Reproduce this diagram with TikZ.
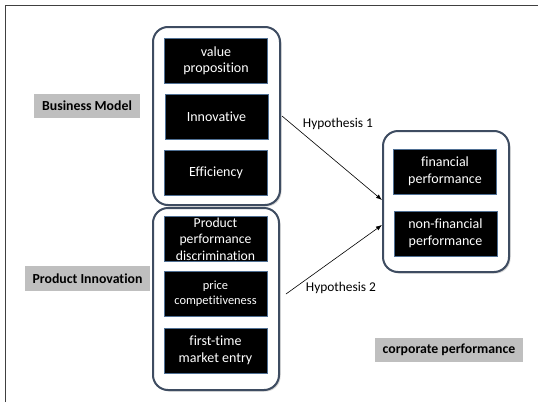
\documentclass[tikz,border=0pt]{standalone}
\usepackage{fontspec}
\setmainfont[Ligatures=NoCommon]{Carlito}
\usetikzlibrary{arrows.meta,shadows}
\definecolor{framegray}{HTML}{404040}
\definecolor{outerblue}{HTML}{3E4C61}
\definecolor{innerblue}{HTML}{4F6F93}
\definecolor{labelgray}{HTML}{BFBFBF}
\tikzset{
  outerbox/.style={draw=outerblue, line width=2pt, rounded corners=15pt, fill=white,
    drop shadow={shadow xshift=1.5pt, shadow yshift=-1.5pt, opacity=0.35, fill=gray}},
  innerbox/.style={draw=innerblue, line width=0.8pt, fill=black, text=white, align=center,
    minimum width=103pt, minimum height=45pt, inner sep=1pt,
    font=\fontsize{14}{16.5}\selectfont},
  graylabel/.style={fill=labelgray, text=black, inner sep=0pt,
    font=\fontsize{13.8}{15}\selectfont\bfseries},
  hyplabel/.style={font=\fontsize{13.4}{15}\selectfont, text=black},
  hyparrow/.style={draw=black, line width=0.6pt, -{Latex[length=6pt,width=4.5pt]}}
}
\begin{document}
\begin{tikzpicture}[x=1pt,y=-1pt]
\useasboundingbox (0,0) rectangle (538,402);
\fill[white] (0,0) rectangle (538,402);
% outer frame (left and top visible)
\draw[framegray, line width=1pt] (5,402) -- (5,5) -- (538,5);
% group boxes
\node[outerbox, minimum width=127pt, minimum height=178pt] (bm) at (216.5,116) {};
\node[outerbox, minimum width=126pt, minimum height=182pt] (pi) at (216,299) {};
\node[outerbox, minimum width=126pt, minimum height=141pt] (cp) at (446,201.5) {};
% inner boxes
\node[innerbox] (vp) at (216,61) {value\\proposition};
\node[innerbox] (inn) at (216.5,116.5) {Innovative};
\node[innerbox] (eff) at (216,173) {Efficiency};
\node[innerbox, font=\fontsize{13.7}{16.6}\selectfont] (ppd) at (215.5,239) {Product\\performance\\discrimination};
\node[innerbox, font=\fontsize{12.4}{15.4}\selectfont] (pc) at (215.5,293.5) {price\\competitiveness};
\node[innerbox] (ft) at (215.5,350.5) {first-time\\market entry};
\node[innerbox] (fp) at (445,171.5) {financial\\performance};
\node[innerbox] (nfp) at (445.5,233.5) {non-financial\\performance};
% labels
\node[graylabel, minimum width=106pt, minimum height=24pt] (lbm) at (87,106) {Business Model};
\node[graylabel, minimum width=125pt, minimum height=25pt] (lpi) at (87.5,278.5) {Product Innovation};
\node[graylabel, minimum width=148pt, minimum height=24pt] (lcp) at (449,350) {corporate performance};
% arrows
\coordinate (h1s) at ([xshift=1pt]bm.east);
\coordinate (h1e) at ([yshift=1.5pt]cp.west);
\coordinate (h2s) at ([xshift=6pt,yshift=5pt]pi.east);
\coordinate (h2e) at ([yshift=-23.5pt]cp.west);
\draw[hyparrow] (h1s) -- (h1e);
\draw[hyparrow] (h2s) -- (h2e);
\node[hyplabel] (t1) at (338,124) {Hypothesis 1};
\node[hyplabel] (t2) at (341,288) {Hypothesis 2};
\end{tikzpicture}
\end{document}
